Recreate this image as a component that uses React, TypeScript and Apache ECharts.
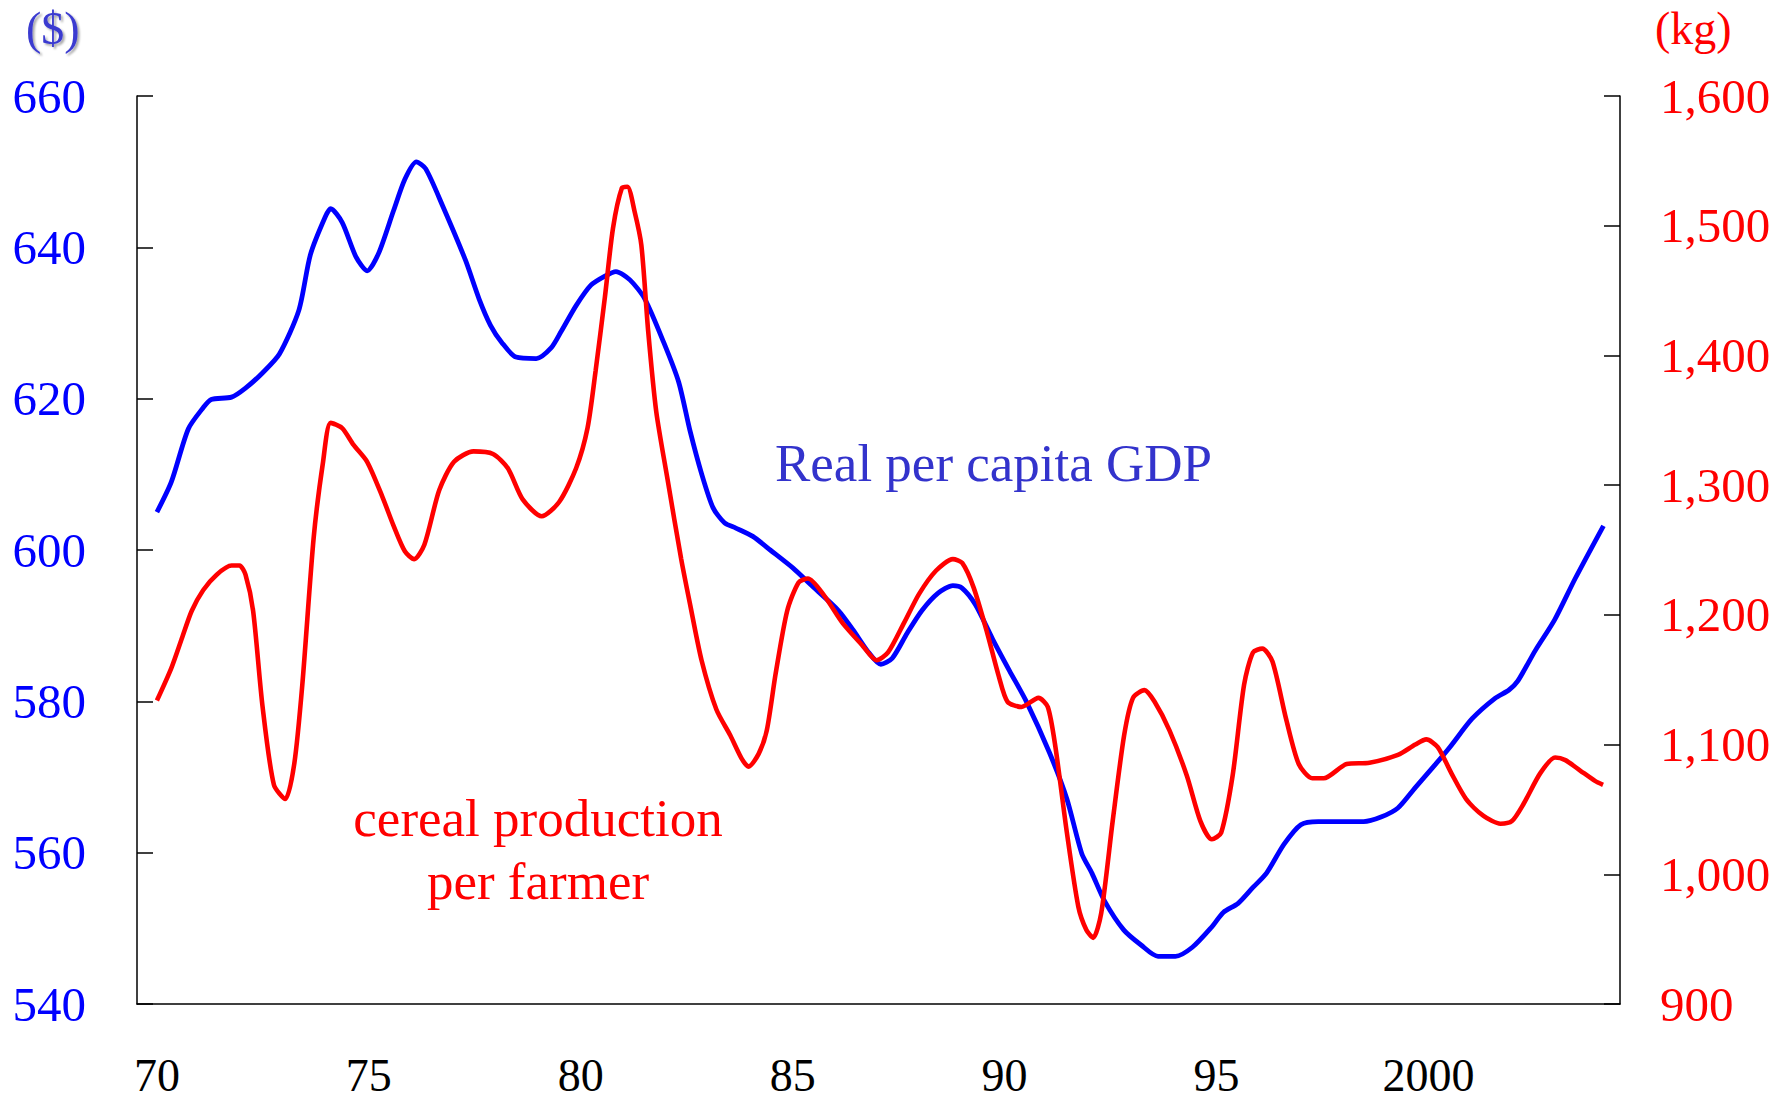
import React, { useEffect, useRef } from "react";
import * as echarts from "echarts";

// ---- Data ----
const xTickValues = [1970, 1975, 1980, 1985, 1990, 1995, 2000];
const xTickLabels = ["70", "75", "80", "85", "90", "95", "2000"];

const gdpYears = [
  1970.0, 1970.34, 1970.74, 1971.09, 1971.28, 1971.76, 1972.09, 1972.49, 1972.89, 1973.35,
  1973.62, 1973.97, 1974.1, 1974.37, 1974.7, 1974.96, 1975.23, 1975.58, 1975.85, 1976.12,
  1976.34, 1976.74, 1977.28, 1977.6, 1977.87, 1978.14, 1978.47, 1978.95, 1979.3, 1979.54,
  1979.89, 1980.24, 1980.57, 1980.83, 1981.16, 1981.51, 1981.96, 1982.31, 1982.58, 1982.85,
  1983.12, 1983.39, 1983.66, 1984.06, 1984.47, 1985.01, 1985.41, 1986.08, 1986.43, 1986.76,
  1987.08, 1987.35, 1987.7, 1988.05, 1988.43, 1988.78, 1988.99, 1989.31, 1989.72, 1990.12,
  1990.52, 1991.06, 1991.47, 1991.82, 1992.06, 1992.36, 1992.81, 1993.22, 1993.62, 1994.03,
  1994.43, 1994.89, 1995.16, 1995.51, 1995.86, 1996.18, 1996.59, 1996.99, 1997.4, 1998.47,
  1998.88, 1999.28, 1999.69, 2000.17, 2000.5, 2001.03, 2001.57, 2001.9, 2002.11, 2002.52,
  2002.98, 2003.46, 2004.13,
];
const gdpValues = [
  605.0, 609.0, 616.0, 618.8, 619.9, 620.2, 621.4, 623.4, 625.9, 631.7,
  639.0, 644.0, 645.1, 643.3, 638.7, 636.9, 639.2, 644.8, 649.0, 651.3,
  650.4, 645.5, 638.3, 633.2, 629.7, 627.4, 625.5, 625.3, 626.7, 628.9,
  632.3, 635.0, 636.2, 636.8, 635.7, 633.2, 627.4, 622.2, 615.7, 610.1,
  605.6, 603.6, 602.9, 601.8, 600.0, 597.6, 595.5, 592.0, 589.4, 586.7,
  584.9, 585.7, 589.0, 592.0, 594.3, 595.3, 595.0, 592.8, 588.2, 584.0,
  579.9, 573.2, 567.1, 559.9, 557.3, 553.6, 549.8, 547.8, 546.3, 546.3,
  547.5, 550.2, 552.1, 553.3, 555.4, 557.3, 561.1, 563.7, 564.1, 564.1,
  564.7, 565.9, 568.6, 571.7, 573.9, 577.7, 580.4, 581.5, 582.7, 586.7,
  590.8, 596.2, 603.2,
];

const cerealYears = [
  1970.0, 1970.34, 1970.6, 1970.82, 1971.09, 1971.41, 1971.76, 1971.95, 1972.09, 1972.27,
  1972.49, 1972.76, 1973.03, 1973.24, 1973.43, 1973.7, 1973.92, 1974.1, 1974.37, 1974.64,
  1974.96, 1975.32, 1975.58, 1975.85, 1976.07, 1976.31, 1976.66, 1977.01, 1977.47, 1977.93,
  1978.28, 1978.63, 1979.08, 1979.49, 1979.89, 1980.16, 1980.35, 1980.57, 1980.76, 1980.97,
  1981.1, 1981.27, 1981.43, 1981.59, 1981.78, 1982.05, 1982.37, 1982.58, 1982.85, 1983.2,
  1983.53, 1983.8, 1983.96, 1984.2, 1984.39, 1984.6, 1984.87, 1985.14, 1985.36, 1985.74,
  1986.17, 1986.63, 1986.98, 1987.25, 1987.63, 1987.98, 1988.38, 1988.78, 1989.0, 1989.27,
  1989.59, 1989.86, 1990.07, 1990.4, 1990.8, 1991.02, 1991.2, 1991.47, 1991.74, 1991.93,
  1992.09, 1992.28, 1992.55, 1992.82, 1993.03, 1993.3, 1993.54, 1993.89, 1994.3, 1994.62,
  1994.89, 1995.11, 1995.38, 1995.65, 1995.86, 1996.08, 1996.32, 1996.64, 1996.94, 1997.26,
  1997.53, 1998.07, 1998.61, 1999.28, 1999.69, 1999.95, 2000.22, 2000.54, 2000.89, 2001.3,
  2001.7, 2001.97, 2002.24, 2002.64, 2002.99, 2003.23, 2003.58, 2003.93, 2004.12,
];
const cerealValues = [
  1134, 1159, 1183, 1203, 1219, 1231, 1238, 1238, 1231, 1203,
  1130, 1069, 1058, 1085, 1146, 1260, 1318, 1348, 1344, 1331,
  1318, 1291, 1269, 1249, 1243, 1254, 1296, 1318, 1326, 1324,
  1313, 1289, 1276, 1287, 1313, 1344, 1388, 1445, 1498, 1529,
  1530, 1511, 1485, 1419, 1357, 1304, 1243, 1208, 1165, 1127,
  1107, 1089, 1083, 1093, 1111, 1155, 1203, 1225, 1228, 1215,
  1194, 1177, 1165, 1171, 1194, 1216, 1234, 1243, 1240, 1221,
  1186, 1153, 1133, 1129, 1136, 1129, 1098, 1032, 975, 957,
  951, 970, 1041, 1107, 1136, 1142, 1133, 1111, 1076, 1041,
  1027, 1032, 1076, 1146, 1171, 1174, 1164, 1120, 1085, 1074,
  1074, 1085, 1086, 1092, 1100, 1104, 1098, 1078, 1058, 1045,
  1039, 1041, 1054, 1078, 1090, 1088, 1080, 1072, 1069,
];

const leftTicks = { min: 540, max: 660, interval: 20 };
const rightTicks = { min: 900, max: 1600, interval: 100 };

const FONT = "'Liberation Serif', 'Times New Roman', serif";

export default function App() {
  const ref = useRef<HTMLDivElement>(null);

  useEffect(() => {
    document.body.style.margin = "0";
    if (!ref.current) return;
    const chart = echarts.init(ref.current, null, { renderer: "svg" });

    const gdpData = gdpYears.map((y, i) => [y, gdpValues[i]]);
    const cerealData = cerealYears.map((y, i) => [y, cerealValues[i]]);

    chart.setOption({
      animation: false,
      backgroundColor: "#ffffff",
      grid: { left: 137, right: 169, top: 96, bottom: 100, containLabel: false },
      xAxis: {
        type: "value",
        min: 1969.53,
        max: 2004.52,
        axisLine: { show: true, lineStyle: { color: "#000", width: 1.5 } },
        axisTick: { show: false },
        splitLine: { show: false },
        axisLabel: {
          customValues: xTickValues,
          formatter: (v: number) => {
            const i = xTickValues.indexOf(Math.round(v));
            return i >= 0 ? xTickLabels[i] : "";
          },
          color: "#000",
          fontFamily: FONT,
          fontSize: 46,
          lineHeight: 46,
          margin: 48,
        },
      },
      yAxis: [
        {
          type: "value",
          position: "left",
          min: leftTicks.min,
          max: leftTicks.max,
          interval: leftTicks.interval,
          axisLine: { show: true, lineStyle: { color: "#000", width: 1.5 } },
          axisTick: { show: true, inside: true, length: 16, lineStyle: { color: "#000", width: 1.5 } },
          splitLine: { show: false },
          axisLabel: { color: "#0000FF", fontFamily: FONT, fontSize: 49, margin: 51 },
        },
        {
          type: "value",
          position: "right",
          min: rightTicks.min,
          max: rightTicks.max,
          interval: rightTicks.interval,
          axisLine: { show: true, lineStyle: { color: "#000", width: 1.5 } },
          axisTick: { show: true, inside: true, length: 16, lineStyle: { color: "#000", width: 1.5 } },
          splitLine: { show: false },
          axisLabel: {
            color: "#FF0000",
            fontFamily: FONT,
            fontSize: 49,
            margin: 40,
            formatter: (v: number) => v.toLocaleString("en-US"),
          },
        },
      ],
      series: [
        {
          name: "Real per capita GDP",
          type: "line",
          yAxisIndex: 0,
          data: gdpData,
          showSymbol: false,
          smooth: 0.25,
          lineStyle: { color: "#0000FF", width: 4.8 },
          z: 2,
        },
        {
          name: "cereal production per farmer",
          type: "line",
          yAxisIndex: 1,
          data: cerealData,
          showSymbol: false,
          smooth: 0.25,
          lineStyle: { color: "#FF0000", width: 4.6 },
          z: 3,
        },
      ],
      graphic: [
        {
          type: "text",
          left: 26,
          top: 5,
          style: {
            text: "($)",
            fill: "#3B3BD0",
            font: `46px ${FONT}`,
            textShadowColor: "rgba(0,0,0,0.35)",
            textShadowOffsetX: 2,
            textShadowOffsetY: 2,
            textShadowBlur: 2,
          },
        },
        {
          type: "text",
          left: 1655,
          top: 5,
          style: { text: "(kg)", fill: "#FF0000", font: `46px ${FONT}` },
        },
        {
          type: "text",
          left: 775,
          top: 436,
          style: { text: "Real per capita GDP", fill: "#3333CC", font: `53px ${FONT}` },
        },
        {
          type: "text",
          x: 538,
          y: 786,
          style: {
            text: "cereal production\nper farmer",
            fill: "#FF0000",
            font: `53px ${FONT}`,
            align: "center",
            lineHeight: 63,
          },
        },
      ],
    });

    return () => chart.dispose();
  }, []);

  return <div ref={ref} style={{ width: 1789, height: 1104 }} />;
}
